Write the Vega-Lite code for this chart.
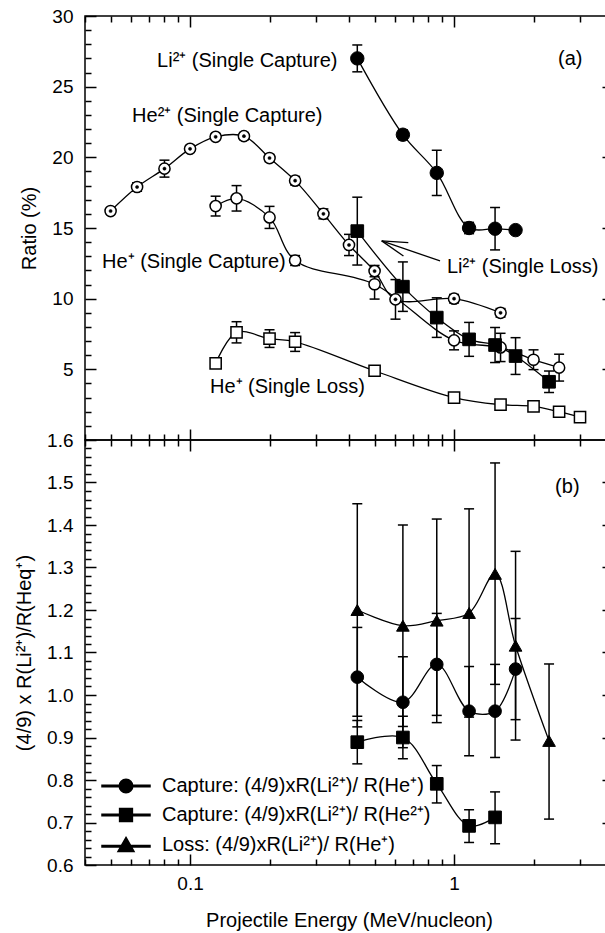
{
  "$schema": "https://vega.github.io/schema/vega-lite/v6.json",
  "background": "white",
  "padding": {"left": 13, "top": 6, "right": -8, "bottom": 0},
  "spacing": 0,
  "bounds": "flush",
  "config": {
    "font": "Liberation Sans",
    "concat": {"spacing": 0},
    "view": {"stroke": "black", "strokeWidth": 1.5},
    "axis": {"grid": false, "domain": false, "ticks": true, "tickColor": "black", "tickWidth": 1.5, "labelColor": "black", "titleColor": "black", "labelFontSize": 19, "titleFontSize": 20, "titleFontWeight": "normal", "labelOverlap": false, "labelFlush": false, "labelFont": "Liberation Sans", "titleFont": "Liberation Sans"}
  },
  "datasets": {
    "a": [
      {"s": "Li2+ capture", "x": 0.43, "y": 27.0, "lo": 26.05, "hi": 27.95},
      {"s": "Li2+ capture", "x": 0.64, "y": 21.6, "lo": 21.25, "hi": 21.95},
      {"s": "Li2+ capture", "x": 0.86, "y": 18.9, "lo": 17.3, "hi": 20.5},
      {"s": "Li2+ capture", "x": 1.14, "y": 15.0, "lo": 14.6, "hi": 15.4},
      {"s": "Li2+ capture", "x": 1.43, "y": 14.95, "lo": 13.45, "hi": 16.45},
      {"s": "Li2+ capture", "x": 1.71, "y": 14.85, "lo": 14.85, "hi": 14.85},
      {"s": "He2+ capture", "x": 0.05, "y": 16.2, "lo": 16.0, "hi": 16.4},
      {"s": "He2+ capture", "x": 0.063, "y": 17.9, "lo": 17.6, "hi": 18.2},
      {"s": "He2+ capture", "x": 0.08, "y": 19.2, "lo": 18.6, "hi": 19.8},
      {"s": "He2+ capture", "x": 0.1, "y": 20.6, "lo": 20.4, "hi": 20.8},
      {"s": "He2+ capture", "x": 0.125, "y": 21.45, "lo": 21.25, "hi": 21.65},
      {"s": "He2+ capture", "x": 0.16, "y": 21.5, "lo": 21.25, "hi": 21.75},
      {"s": "He2+ capture", "x": 0.2, "y": 19.95, "lo": 19.7, "hi": 20.2},
      {"s": "He2+ capture", "x": 0.25, "y": 18.35, "lo": 18.05, "hi": 18.65},
      {"s": "He2+ capture", "x": 0.32, "y": 16.0, "lo": 15.65, "hi": 16.35},
      {"s": "He2+ capture", "x": 0.4, "y": 13.8, "lo": 13.05, "hi": 14.55},
      {"s": "He2+ capture", "x": 0.5, "y": 11.95, "lo": 11.55, "hi": 12.35},
      {"s": "He2+ capture", "x": 0.6, "y": 9.95, "lo": 8.55, "hi": 11.35},
      {"s": "He2+ capture", "x": 1.0, "y": 10.0, "lo": 9.7, "hi": 10.3},
      {"s": "He2+ capture", "x": 1.5, "y": 9.0, "lo": 8.7, "hi": 9.3},
      {"s": "He+ capture", "x": 0.125, "y": 16.55, "lo": 15.85, "hi": 17.25},
      {"s": "He+ capture", "x": 0.15, "y": 17.1, "lo": 16.2, "hi": 18.0},
      {"s": "He+ capture", "x": 0.2, "y": 15.75, "lo": 14.97, "hi": 16.53},
      {"s": "He+ capture", "x": 0.25, "y": 12.7, "lo": 12.35, "hi": 13.05},
      {"s": "He+ capture", "x": 0.5, "y": 11.02, "lo": 9.97, "hi": 12.07},
      {"s": "He+ capture", "x": 1.0, "y": 7.05, "lo": 6.38, "hi": 7.72},
      {"s": "He+ capture", "x": 1.5, "y": 6.55, "lo": 5.55, "hi": 7.55},
      {"s": "He+ capture", "x": 2.0, "y": 5.68, "lo": 4.98, "hi": 6.38},
      {"s": "He+ capture", "x": 2.5, "y": 5.12, "lo": 4.17, "hi": 6.07},
      {"s": "He+ loss", "x": 0.125, "y": 5.42, "lo": 5.42, "hi": 5.42},
      {"s": "He+ loss", "x": 0.15, "y": 7.62, "lo": 6.87, "hi": 8.37},
      {"s": "He+ loss", "x": 0.2, "y": 7.17, "lo": 6.55, "hi": 7.8},
      {"s": "He+ loss", "x": 0.25, "y": 6.95, "lo": 6.27, "hi": 7.6},
      {"s": "He+ loss", "x": 0.5, "y": 4.9, "lo": 4.7, "hi": 5.1},
      {"s": "He+ loss", "x": 1.0, "y": 3.0, "lo": 3.0, "hi": 3.0},
      {"s": "He+ loss", "x": 1.5, "y": 2.5, "lo": 2.5, "hi": 2.5},
      {"s": "He+ loss", "x": 2.0, "y": 2.38, "lo": 2.38, "hi": 2.38},
      {"s": "He+ loss", "x": 2.5, "y": 2.0, "lo": 2.0, "hi": 2.0},
      {"s": "He+ loss", "x": 3.0, "y": 1.62, "lo": 1.62, "hi": 1.62},
      {"s": "Li2+ loss", "x": 0.43, "y": 14.78, "lo": 12.38, "hi": 17.18},
      {"s": "Li2+ loss", "x": 0.64, "y": 10.85, "lo": 9.1, "hi": 12.6},
      {"s": "Li2+ loss", "x": 0.86, "y": 8.66, "lo": 7.26, "hi": 10.06},
      {"s": "Li2+ loss", "x": 1.14, "y": 7.12, "lo": 5.92, "hi": 8.32},
      {"s": "Li2+ loss", "x": 1.43, "y": 6.72, "lo": 5.48, "hi": 7.96},
      {"s": "Li2+ loss", "x": 1.71, "y": 5.94, "lo": 4.64, "hi": 7.24},
      {"s": "Li2+ loss", "x": 2.29, "y": 4.12, "lo": 3.36, "hi": 4.88}
    ],
    "annA": [
      {"x": 0.075, "y": 26.8, "t": "Li²⁺ (Single Capture)"},
      {"x": 0.0603, "y": 22.9, "t": "He²⁺ (Single Capture)"},
      {"x": 0.0464, "y": 12.6, "t": "He⁺ (Single Capture)"},
      {"x": 0.94, "y": 12.22, "t": "Li²⁺ (Single Loss)"},
      {"x": 0.119, "y": 3.73, "t": "He⁺ (Single Loss)"},
      {"x": 2.477, "y": 26.95, "t": "(a)"}
    ],
    "arrowA": [
      {"x": 0.885, "y": 12.67, "x2": 0.532, "y2": 14.09},
      {"x": 0.532, "y": 14.09, "x2": 0.671, "y2": 13.97},
      {"x": 0.532, "y": 14.09, "x2": 0.643, "y2": 13.02}
    ],
    "b": [
      {"s": "Capture: (4/9)xR(Li²⁺)/ R(He⁺)", "x": 0.43, "y": 1.042, "lo": 0.925, "hi": 1.159},
      {"s": "Capture: (4/9)xR(Li²⁺)/ R(He⁺)", "x": 0.64, "y": 0.983, "lo": 0.876, "hi": 1.09},
      {"s": "Capture: (4/9)xR(Li²⁺)/ R(He⁺)", "x": 0.86, "y": 1.072, "lo": 0.952, "hi": 1.192},
      {"s": "Capture: (4/9)xR(Li²⁺)/ R(He⁺)", "x": 1.14, "y": 0.962, "lo": 0.857, "hi": 1.067},
      {"s": "Capture: (4/9)xR(Li²⁺)/ R(He⁺)", "x": 1.43, "y": 0.962, "lo": 0.853, "hi": 1.072},
      {"s": "Capture: (4/9)xR(Li²⁺)/ R(He⁺)", "x": 1.71, "y": 1.061, "lo": 0.942, "hi": 1.18},
      {"s": "Capture: (4/9)xR(Li²⁺)/ R(He²⁺)", "x": 0.43, "y": 0.889, "lo": 0.838, "hi": 0.94},
      {"s": "Capture: (4/9)xR(Li²⁺)/ R(He²⁺)", "x": 0.64, "y": 0.9, "lo": 0.85, "hi": 0.95},
      {"s": "Capture: (4/9)xR(Li²⁺)/ R(He²⁺)", "x": 0.86, "y": 0.791, "lo": 0.746, "hi": 0.834},
      {"s": "Capture: (4/9)xR(Li²⁺)/ R(He²⁺)", "x": 1.14, "y": 0.692, "lo": 0.653, "hi": 0.73},
      {"s": "Capture: (4/9)xR(Li²⁺)/ R(He²⁺)", "x": 1.43, "y": 0.712, "lo": 0.65, "hi": 0.772},
      {"s": "Loss: (4/9)xR(Li²⁺)/ R(He⁺)", "x": 0.43, "y": 1.2, "lo": 0.95, "hi": 1.45},
      {"s": "Loss: (4/9)xR(Li²⁺)/ R(He⁺)", "x": 0.64, "y": 1.163, "lo": 0.926, "hi": 1.4},
      {"s": "Loss: (4/9)xR(Li²⁺)/ R(He⁺)", "x": 0.86, "y": 1.175, "lo": 0.935, "hi": 1.414},
      {"s": "Loss: (4/9)xR(Li²⁺)/ R(He⁺)", "x": 1.14, "y": 1.193, "lo": 0.948, "hi": 1.438},
      {"s": "Loss: (4/9)xR(Li²⁺)/ R(He⁺)", "x": 1.43, "y": 1.285, "lo": 1.025, "hi": 1.546},
      {"s": "Loss: (4/9)xR(Li²⁺)/ R(He⁺)", "x": 1.71, "y": 1.116, "lo": 0.894, "hi": 1.338},
      {"s": "Loss: (4/9)xR(Li²⁺)/ R(He⁺)", "x": 2.29, "y": 0.892, "lo": 0.708, "hi": 1.073}
    ],
    "annB": [
      {"x": 2.414, "y": 1.489, "t": "(b)"}
    ]
  },
  "vconcat": [
    {
      "width": 528,
      "height": 424,
      "layer": [
        {
          "data": {"name": "a"},
          "encoding": {
            "x": {"field": "x", "type": "quantitative",
              "scale": {"type": "log", "domain": [0.04, 4], "nice": false},
              "axis": {"orient": "bottom", "title": null, "labels": false, "values": [0.1, 1], "tickSize": 11, "offset": -11}},
            "y": {"field": "y", "type": "quantitative",
              "scale": {"domain": [0, 30], "nice": false, "zero": false},
              "axis": {"orient": "left", "title": "Ratio (%)", "values": [5, 10, 15, 20, 25, 30], "format": "d",
                "tickSize": 11, "offset": -11, "labelPadding": 12, "titlePadding": 12}}
          },
          "layer": [
            {"mark": {"type": "line", "color": "black", "strokeWidth": 1.3, "interpolate": "catmull-rom"},
             "encoding": {"detail": {"field": "s"}}},
            {"mark": {"type": "rule", "color": "black", "strokeWidth": 1.5},
             "encoding": {"y": {"field": "lo", "type": "quantitative"}, "y2": {"field": "hi"}}},
            {"mark": {"type": "tick", "orient": "horizontal", "color": "black", "size": 10, "thickness": 1.5, "opacity": 1},
             "encoding": {"y": {"field": "lo", "type": "quantitative"}}},
            {"mark": {"type": "tick", "orient": "horizontal", "color": "black", "size": 10, "thickness": 1.5, "opacity": 1},
             "encoding": {"y": {"field": "hi", "type": "quantitative"}}},
            {"transform": [{"filter": "datum.s == 'Li2+ capture'"}],
             "mark": {"type": "point", "shape": "circle", "fill": "black", "stroke": "black", "strokeWidth": 1, "size": 180, "opacity": 1}},
            {"transform": [{"filter": "datum.s == 'He2+ capture' || datum.s == 'He+ capture'"}],
             "mark": {"type": "point", "shape": "circle", "fill": "white", "stroke": "black", "strokeWidth": 1.5, "size": 125, "opacity": 1}},
            {"transform": [{"filter": "datum.s == 'He+ loss'"}],
             "mark": {"type": "point", "shape": "square", "fill": "white", "stroke": "black", "strokeWidth": 1.5, "size": 125, "opacity": 1}},
            {"transform": [{"filter": "datum.s == 'Li2+ loss'"}],
             "mark": {"type": "point", "shape": "square", "fill": "black", "stroke": "black", "strokeWidth": 1, "size": 160, "opacity": 1}},
            {"transform": [{"filter": "datum.s == 'He2+ capture'"}],
             "mark": {"type": "point", "shape": "circle", "fill": "black", "stroke": "black", "strokeWidth": 0.5, "size": 10, "opacity": 1}}
          ]
        },
        {
          "data": {"name": "a"},
          "mark": {"type": "point", "opacity": 0},
          "encoding": {
            "x": {"field": "x", "type": "quantitative",
              "axis": {"orient": "bottom", "title": null, "labels": false,
                "values": [0.04,0.05,0.06,0.07,0.08,0.09,0.2,0.3,0.4,0.5,0.6,0.7,0.8,0.9,2,3,4], "tickSize": 6, "offset": -6}},
            "y": {"field": "y", "type": "quantitative",
              "axis": {"orient": "left", "title": null, "labels": false,
                "values": [1,2,3,4,6,7,8,9,11,12,13,14,16,17,18,19,21,22,23,24,26,27,28,29], "tickSize": 6, "offset": -6}}
          }
        },
        {
          "data": {"name": "a"},
          "mark": {"type": "point", "opacity": 0},
          "encoding": {
            "x": {"field": "x", "type": "quantitative",
              "axis": {"orient": "top", "title": null, "labels": false, "values": [0.1, 1], "tickSize": 11, "offset": -11}},
            "y": {"field": "y", "type": "quantitative",
              "axis": {"orient": "right", "title": null, "labels": false, "values": [5, 10, 15, 20, 25], "tickSize": 11, "offset": -11}}
          }
        },
        {
          "data": {"name": "a"},
          "mark": {"type": "point", "opacity": 0},
          "encoding": {
            "x": {"field": "x", "type": "quantitative",
              "axis": {"orient": "top", "title": null, "labels": false,
                "values": [0.04,0.05,0.06,0.07,0.08,0.09,0.2,0.3,0.4,0.5,0.6,0.7,0.8,0.9,2,3,4], "tickSize": 6, "offset": -6}},
            "y": {"field": "y", "type": "quantitative", "axis": null}
          }
        },
        {
          "data": {"name": "annA"},
          "mark": {"type": "text", "align": "left", "baseline": "middle", "fontSize": 20, "color": "black", "font": "Liberation Sans"},
          "encoding": {
            "x": {"field": "x", "type": "quantitative", "axis": null},
            "y": {"field": "y", "type": "quantitative", "axis": null},
            "text": {"field": "t"}
          }
        },
        {
          "data": {"name": "arrowA"},
          "mark": {"type": "rule", "color": "black", "strokeWidth": 1.3},
          "encoding": {
            "x": {"field": "x", "type": "quantitative", "axis": null},
            "y": {"field": "y", "type": "quantitative", "axis": null},
            "x2": {"field": "x2"},
            "y2": {"field": "y2"}
          }
        }
      ],
      "resolve": {"axis": {"x": "independent", "y": "independent"}}
    },
    {
      "width": 528,
      "height": 425,
      "layer": [
        {
          "mark": {"type": "rule", "color": "black", "strokeWidth": 1.3},
          "encoding": {"y": {"datum": 1, "type": "quantitative", "axis": null}}
        },
        {
          "data": {"name": "b"},
          "encoding": {
            "x": {"field": "x", "type": "quantitative",
              "scale": {"type": "log", "domain": [0.04, 4], "nice": false},
              "axis": {"orient": "bottom", "title": "Projectile Energy (MeV/nucleon)", "values": [0.1, 1],
                "labelExpr": "datum.value == 0.1 ? '0.1' : '1'",
                "tickSize": 11, "offset": -11, "labelPadding": 9, "titlePadding": 17}},
            "y": {"field": "y", "type": "quantitative",
              "scale": {"domain": [0.6, 1.6], "nice": false, "zero": false},
              "axis": {"orient": "left", "title": "(4/9) x R(Li²⁺)/R(Heq⁺)",
                "values": [0.6,0.7,0.8,0.9,1,1.1,1.2,1.3,1.4,1.5,1.6], "format": ".1f",
                "tickSize": 11, "offset": -11, "labelPadding": 12, "titlePadding": 12}}
          },
          "layer": [
            {"mark": {"type": "line", "color": "black", "strokeWidth": 1.3, "interpolate": "catmull-rom"},
             "encoding": {"detail": {"field": "s"}}},
            {"mark": {"type": "rule", "color": "black", "strokeWidth": 1.5},
             "encoding": {"y": {"field": "lo", "type": "quantitative"}, "y2": {"field": "hi"}}},
            {"mark": {"type": "tick", "orient": "horizontal", "color": "black", "size": 10, "thickness": 1.5, "opacity": 1},
             "encoding": {"y": {"field": "lo", "type": "quantitative"}}},
            {"mark": {"type": "tick", "orient": "horizontal", "color": "black", "size": 10, "thickness": 1.5, "opacity": 1},
             "encoding": {"y": {"field": "hi", "type": "quantitative"}}},
            {"mark": {"type": "point", "fill": "black", "stroke": "black", "strokeWidth": 1, "size": 160, "opacity": 1},
             "encoding": {"shape": {"field": "s", "type": "nominal",
               "scale": {"domain": ["Capture: (4/9)xR(Li²⁺)/ R(He⁺)", "Capture: (4/9)xR(Li²⁺)/ R(He²⁺)", "Loss: (4/9)xR(Li²⁺)/ R(He⁺)"],
                         "range": ["circle", "square", "triangle-up"]},
               "legend": null}}}
          ]
        },
        {
          "data": {"name": "b"},
          "mark": {"type": "point", "opacity": 0},
          "encoding": {
            "x": {"field": "x", "type": "quantitative",
              "axis": {"orient": "bottom", "title": null, "labels": false,
                "values": [0.04,0.05,0.06,0.07,0.08,0.09,0.2,0.3,0.4,0.5,0.6,0.7,0.8,0.9,2,3,4], "tickSize": 6, "offset": -6}},
            "y": {"field": "y", "type": "quantitative",
              "axis": {"orient": "left", "title": null, "labels": false,
                "values": [0.62,0.64,0.66,0.68,0.72,0.74,0.76,0.78,0.82,0.84,0.86,0.88,0.92,0.94,0.96,0.98,1.02,1.04,1.06,1.08,1.12,1.14,1.16,1.18,1.22,1.24,1.26,1.28,1.32,1.34,1.36,1.38,1.42,1.44,1.46,1.48,1.52,1.54,1.56,1.58],
                "tickSize": 6, "offset": -6}}
          }
        },
        {
          "data": {"name": "b"},
          "mark": {"type": "point", "opacity": 0},
          "encoding": {
            "x": {"field": "x", "type": "quantitative",
              "axis": {"orient": "top", "title": null, "labels": false, "values": [0.1, 1], "tickSize": 11, "offset": -11}},
            "y": {"field": "y", "type": "quantitative",
              "axis": {"orient": "right", "title": null, "labels": false, "values": [0.7,0.8,0.9,1,1.1,1.2,1.3,1.4,1.5], "tickSize": 11, "offset": -11}}
          }
        },
        {
          "data": {"name": "b"},
          "mark": {"type": "point", "opacity": 0},
          "encoding": {
            "x": {"field": "x", "type": "quantitative",
              "axis": {"orient": "top", "title": null, "labels": false,
                "values": [0.04,0.05,0.06,0.07,0.08,0.09,0.2,0.3,0.4,0.5,0.6,0.7,0.8,0.9,2,3,4], "tickSize": 6, "offset": -6}},
            "y": {"field": "y", "type": "quantitative", "axis": null}
          }
        },
        {
          "data": {"name": "b"},
          "transform": [{"filter": "datum.x > 100"}],
          "mark": {"type": "point", "fill": "black", "stroke": "black", "strokeWidth": 0, "size": 256, "opacity": 1},
          "encoding": {
            "x": {"field": "x", "type": "quantitative", "axis": null},
            "y": {"field": "y", "type": "quantitative", "axis": null},
            "shape": {"field": "s", "type": "nominal",
              "scale": {"domain": ["Capture: (4/9)xR(Li²⁺)/ R(He⁺)", "Capture: (4/9)xR(Li²⁺)/ R(He²⁺)", "Loss: (4/9)xR(Li²⁺)/ R(He⁺)"],
                        "range": ["M-3,-0.09H3V0.09H-3ZM-0.85,0A0.85,0.85,0,1,1,0.85,0A0.85,0.85,0,1,1,-0.85,0Z",
                                  "M-3,-0.09H3V0.09H-3ZM-0.8,-0.8H0.8V0.8H-0.8Z",
                                  "M-3,0.06H3V0.24H-3ZM0,-0.95L1.0,0.8L-1.0,0.8Z"]},
              "legend": {"orient": "none", "legendX": 31, "legendY": 336, "title": null,
                "labelFontSize": 20, "labelFont": "Liberation Sans", "labelColor": "black", "labelLimit": 600,
                "labelOffset": 26, "rowPadding": 9, "padding": 0, "symbolSize": 256,
                "symbolFillColor": "black", "symbolOpacity": 1}}
          }
        },
        {
          "data": {"name": "annB"},
          "mark": {"type": "text", "align": "left", "baseline": "middle", "fontSize": 20, "color": "black", "font": "Liberation Sans"},
          "encoding": {
            "x": {"field": "x", "type": "quantitative", "axis": null},
            "y": {"field": "y", "type": "quantitative", "axis": null},
            "text": {"field": "t"}
          }
        }
      ],
      "resolve": {"axis": {"x": "independent", "y": "independent"}, "scale": {"shape": "independent"}, "legend": {"shape": "independent"}}
    }
  ]
}
